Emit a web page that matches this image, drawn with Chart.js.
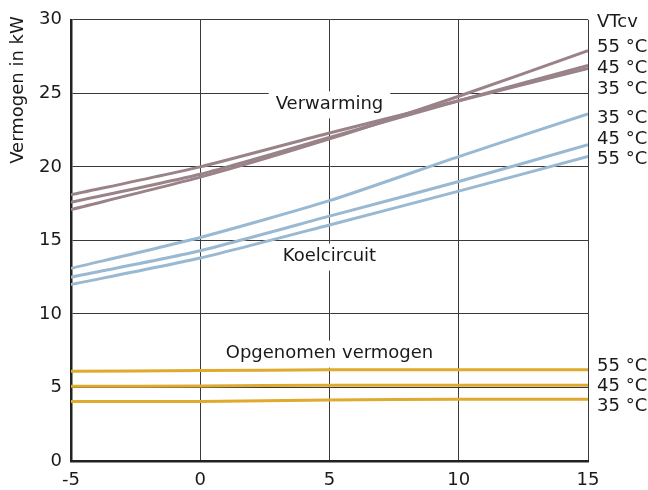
<!DOCTYPE html>
<html>
<head>
<meta charset="utf-8">
<script src="https://cdn.jsdelivr.net/npm/chart.js@4.4.1/dist/chart.umd.min.js"></script>
<style>
  html, body { margin: 0; padding: 0; background: #fff; }
  #wrap { width: 648px; height: 490px; position: relative; }
</style>
</head>
<body>
<div id="wrap"><canvas id="chart"></canvas></div>
<script>
// buitentemperatuur (x) en vermogens (kW)
const xValues = [-5, 0, 5, 10, 15];
const xTicks = [-5, 0, 5, 10, 15];
const yTicks = [0, 5, 10, 15, 20, 25, 30];

const heat35 = [18.1, 20.0, 22.3, 24.5, 26.7];
const heat45 = [17.6, 19.5, 22.0, 24.5, 26.9];
const heat55 = [17.1, 19.3, 21.9, 24.8, 27.9];

const cool35 = [13.1, 15.2, 17.7, 20.7, 23.6];
const cool45 = [12.5, 14.3, 16.65, 19.0, 21.5];
const cool55 = [12.0, 13.8, 16.05, 18.35, 20.7];

const power55 = [6.1, 6.15, 6.2, 6.2, 6.2];
const power45 = [5.08, 5.1, 5.15, 5.15, 5.15];
const power35 = [4.05, 4.05, 4.15, 4.2, 4.2];

const yTitle = "Vermogen in kW";

// labels in de grafiek (met witte achtergrond)
const innerLabels = [
  { text: "Verwarming", x: 5, y: 24.25 },
  { text: "Koelcircuit", x: 5, y: 13.9 },
  { text: "Opgenomen vermogen", x: 5, y: 7.3 },
];

// labels rechts naast de grafiek
const sideLabels = [
  { text: "VTcv", y: 29.85 },
  { text: "55 °C", y: 28.1 },
  { text: "45 °C", y: 26.7 },
  { text: "35 °C", y: 25.3 },
  { text: "35 °C", y: 23.3 },
  { text: "45 °C", y: 21.9 },
  { text: "55 °C", y: 20.5 },
  { text: "55 °C", y: 6.45 },
  { text: "45 °C", y: 5.1 },
  { text: "35 °C", y: 3.75 },
];

const FONT = "DejaVu Sans";
const TXT = "#1a1a1a";
const BROWN = "#9a8388";
const BLUE = "#99b8d1";
const GOLD = "#dfaa2e";

function pts(arr) {
  return arr.map((v, i) => ({ x: xValues[i], y: v }));
}

function ds(arr, color) {
  return {
    data: pts(arr),
    borderColor: color,
    backgroundColor: color,
    borderWidth: 3,
    pointRadius: 0,
    tension: 0.2,
    fill: false,
  };
}

// tekent labels met witte achtergrond, onder de lijnen
const innerLabelPlugin = {
  id: "innerLabels",
  beforeDatasetsDraw(chart) {
    const { ctx, scales } = chart;
    ctx.save();
    ctx.font = "18px " + FONT;
    ctx.textAlign = "center";
    ctx.textBaseline = "middle";
    innerLabels.forEach((l) => {
      const px = scales.x.getPixelForValue(l.x);
      const py = scales.y.getPixelForValue(l.y);
      const w = ctx.measureText(l.text).width + 14;
      ctx.fillStyle = "#fff";
      ctx.fillRect(px - w / 2, py - 13, w, 27);
      ctx.fillStyle = TXT;
      ctx.fillText(l.text, px, py);
    });
    ctx.restore();
  },
  afterDraw(chart) {
    const { ctx, scales, chartArea } = chart;
    ctx.save();
    ctx.font = "18px " + FONT;
    ctx.fillStyle = TXT;
    ctx.textAlign = "left";
    ctx.textBaseline = "middle";
    sideLabels.forEach((l) => {
      ctx.fillText(l.text, chartArea.right + 9, scales.y.getPixelForValue(l.y));
    });
    // y-as titel, bovenaan
    ctx.translate(18, 90);
    ctx.rotate(-Math.PI / 2);
    ctx.textAlign = "center";
    ctx.font = "18px " + FONT;
    ctx.fillText(yTitle, 0, 0);
    ctx.restore();
  },
};

new Chart(document.getElementById("chart"), {
  type: "line",
  data: {
    datasets: [
      ds(heat35, BROWN),
      ds(heat45, BROWN),
      ds(heat55, BROWN),
      ds(cool35, BLUE),
      ds(cool45, BLUE),
      ds(cool55, BLUE),
      ds(power55, GOLD),
      ds(power45, GOLD),
      ds(power35, GOLD),
    ],
  },
  options: {
    responsive: true,
    maintainAspectRatio: false,
    animation: false,
    layout: { padding: { top: 18, right: 60, left: 0, bottom: 0 } },
    plugins: {
      legend: { display: false },
      tooltip: { enabled: false },
    },
    scales: {
      x: {
        type: "linear",
        min: -5,
        max: 15,
        afterBuildTicks: (s) => { s.ticks = xTicks.map((v) => ({ value: v })); },
        afterFit: (s) => { s.height = 29; },
        ticks: { color: TXT, font: { family: FONT, size: 18 }, padding: 9, maxRotation: 0 },
        grid: { color: "#3a3a3a", lineWidth: 1, drawTicks: false },
        border: { color: "#222", width: 2.5 },
      },
      y: {
        min: 0,
        max: 30,
        afterBuildTicks: (s) => { s.ticks = yTicks.map((v) => ({ value: v })); },
        afterFit: (s) => { s.width = 71; },
        ticks: { color: TXT, font: { family: FONT, size: 18 }, padding: 9 },
        grid: { color: "#3a3a3a", lineWidth: 1, drawTicks: false },
        border: { color: "#222", width: 2.5 },
      },
    },
  },
  plugins: [innerLabelPlugin],
});
</script>
</body>
</html>
